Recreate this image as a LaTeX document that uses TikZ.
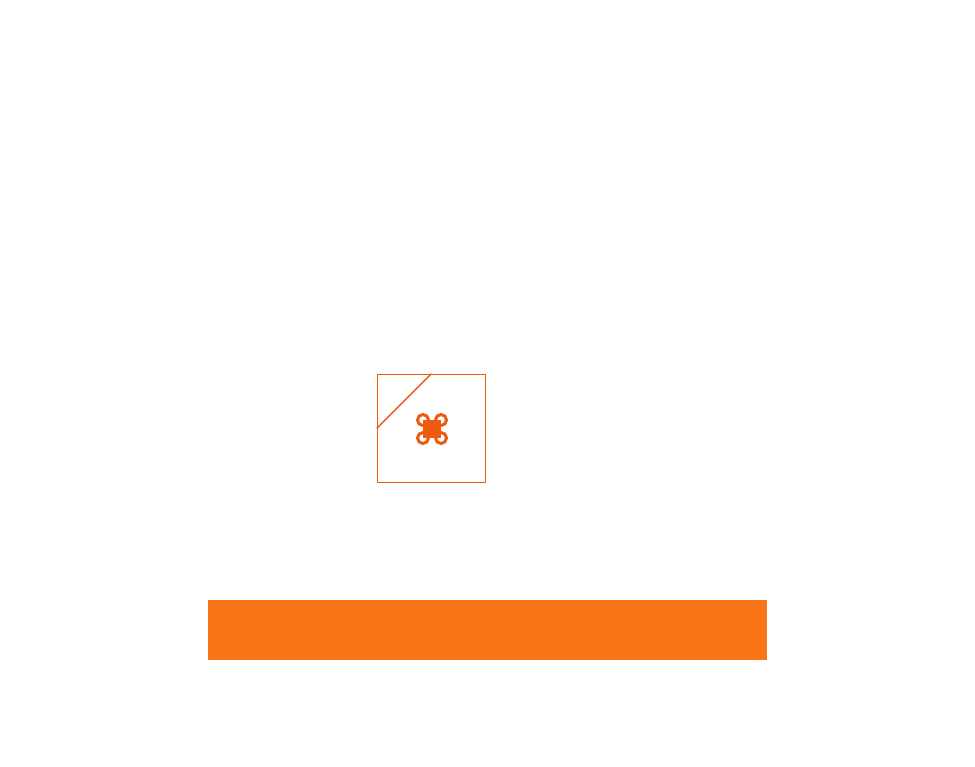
\documentclass[tikz,border=0pt]{standalone}
\usepackage{tikz}
\usetikzlibrary{positioning}
\definecolor{droneorange}{HTML}{EC5B0E}
\definecolor{barorange}{HTML}{F97618}

\begin{document}
\begin{tikzpicture}[x=1pt,y=-1pt,semithick]
  \tikzstyle{place}=[rectangle,draw=droneorange,line width=1.4pt,fill=white,inner sep=0pt,minimum size=108pt]
  \tikzstyle{body}=[rectangle,fill=droneorange,inner sep=0pt,minimum size=18pt]
  \tikzstyle{rotor}=[circle,draw=droneorange,line width=3pt,inner sep=0pt,minimum size=11pt]
  \tikzstyle{bar}=[rectangle,fill=barorange,inner sep=0pt,minimum width=558.5pt,minimum height=60pt]

  \useasboundingbox (0,0) rectangle (975,767);

  \node[place] (F) at (431.4,428.4) {};
  \node[rotor] (R1) at (423,420) {};
  \node[rotor] (R2) at (441,420) {};
  \node[rotor] (R3) at (423,438) {};
  \node[rotor] (R4) at (441,438) {};
  \node[body] (D) at (432,429) {};
  \node[bar] (B) at (487.5,630) {};

  \draw[droneorange,line width=1.3pt] (F.north) -- (F.west);
\end{tikzpicture}
\end{document}
